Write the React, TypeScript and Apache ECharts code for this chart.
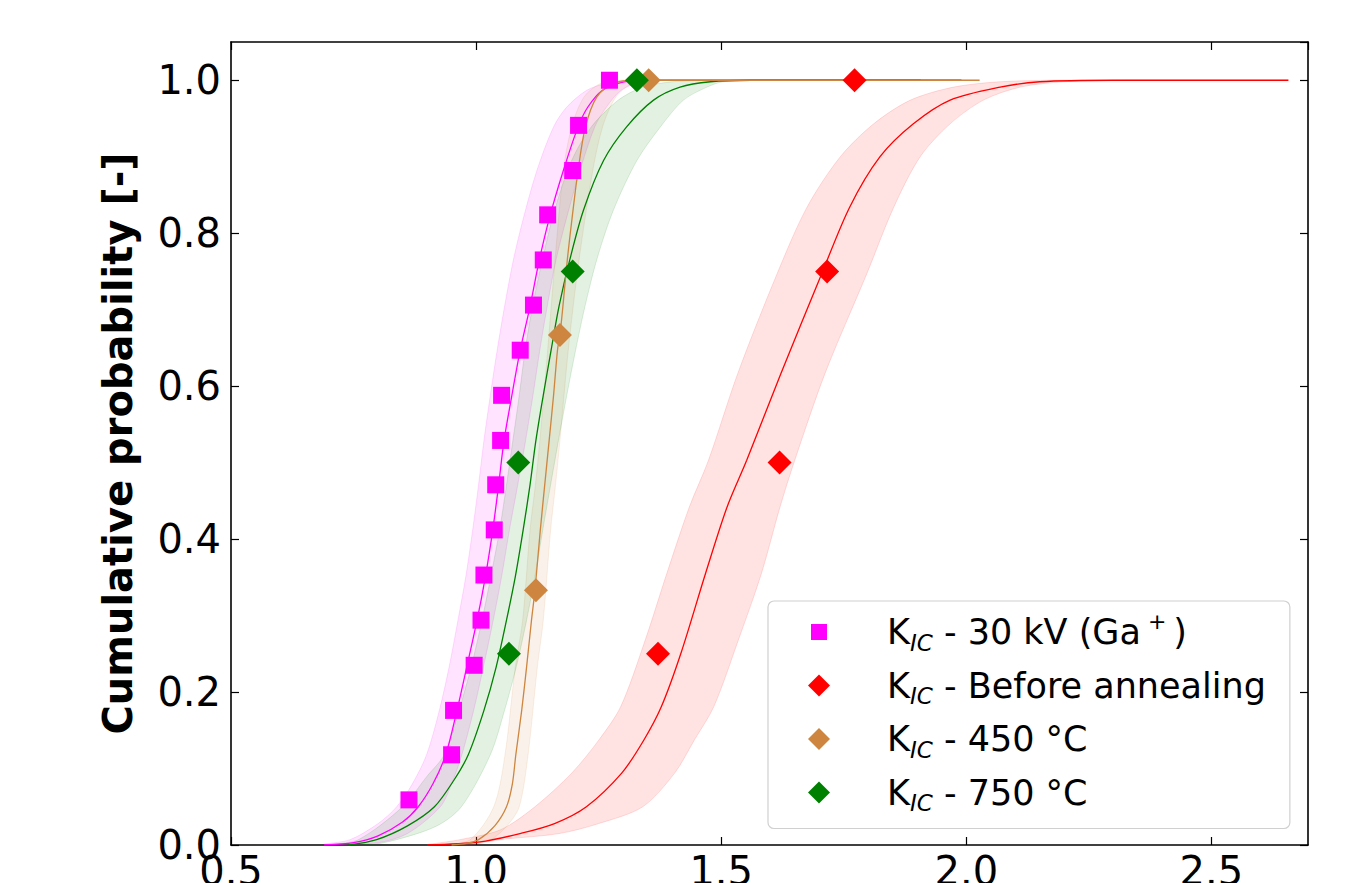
import React, { useEffect, useRef } from "react";
import * as echarts from "echarts";

const FONT = "DejaVu Sans";

// Legend / series names
const seriesNames = [
  "KIC - 30 kV (Ga+)",
  "KIC - Before annealing",
  "KIC - 450 °C",
  "KIC - 750 °C",
];
const legendRich: Record<string, string> = {
  "KIC - 30 kV (Ga+)": "{k|K}{s|IC}{n| - 30 kV (Ga}{p| + }{n|)}",
  "KIC - Before annealing": "{k|K}{s|IC}{n| - Before annealing}",
  "KIC - 450 °C": "{k|K}{s|IC}{n| - 450 °C}",
  "KIC - 750 °C": "{k|K}{s|IC}{n| - 750 °C}",
};
const colors = ["#ff00ff", "#ff0000", "#cd853f", "#008000"];
const bandFills = [
  "rgba(255,0,255,0.11)",
  "rgba(255,0,0,0.11)",
  "rgba(205,133,63,0.11)",
  "rgba(0,128,0,0.11)",
];
const bandStrokes = [
  "rgba(255,0,255,0.13)",
  "rgba(255,0,0,0.13)",
  "rgba(205,133,63,0.13)",
  "rgba(0,128,0,0.13)",
];

// Measured points
const magentaX = [0.863, 0.95, 0.954, 0.996, 1.01, 1.016, 1.037, 1.04, 1.05, 1.052, 1.09, 1.117, 1.137, 1.146, 1.197, 1.209, 1.272];
const magentaY = [0.059, 0.118, 0.176, 0.235, 0.294, 0.353, 0.412, 0.471, 0.529, 0.588, 0.647, 0.706, 0.765, 0.824, 0.882, 0.941, 1.0];
const redX = [1.371, 1.619, 1.716, 1.772];
const redY = [0.25, 0.5, 0.75, 1.0];
const brownX = [1.122, 1.171, 1.352];
const brownY = [0.333, 0.667, 1.0];
const greenX = [1.067, 1.086, 1.197, 1.328];
const greenY = [0.25, 0.5, 0.75, 1.0];

// Fitted curves
const magentaFit = [[0.69,0],[0.75,0.003],[0.80,0.012],[0.85,0.03],[0.882,0.05],[0.912,0.08],[0.938,0.118],[0.961,0.176],[0.981,0.233],[1.002,0.294],[1.019,0.351],[1.034,0.412],[1.046,0.471],[1.057,0.529],[1.073,0.588],[1.09,0.647],[1.11,0.704],[1.129,0.765],[1.15,0.821],[1.178,0.882],[1.208,0.939],[1.228,0.965],[1.258,0.987],[1.302,0.998],[1.36,1.0],[1.907,1.0]];
const magentaUpper = [[0.69,0.001],[0.743,0.007],[0.80,0.028],[0.838,0.05],[0.87,0.08],[0.899,0.118],[0.925,0.176],[0.945,0.233],[0.963,0.294],[0.979,0.351],[0.993,0.412],[1.005,0.471],[1.016,0.529],[1.029,0.588],[1.043,0.647],[1.058,0.704],[1.076,0.765],[1.097,0.821],[1.124,0.882],[1.158,0.939],[1.185,0.965],[1.226,0.987],[1.267,0.996],[1.32,1.0],[1.907,1.0]];
const magentaLower = [[0.69,0],[0.80,0.003],[0.86,0.015],[0.927,0.05],[0.95,0.08],[0.971,0.118],[0.995,0.176],[1.015,0.233],[1.035,0.294],[1.052,0.351],[1.068,0.412],[1.085,0.471],[1.101,0.529],[1.116,0.588],[1.13,0.647],[1.145,0.704],[1.163,0.765],[1.185,0.821],[1.212,0.882],[1.242,0.939],[1.266,0.965],[1.296,0.987],[1.34,0.998],[1.40,1.0],[1.907,1.0]];

const greenFit = [[0.74,0],[0.797,0.007],[0.86,0.025],[0.915,0.05],[0.955,0.085],[0.984,0.118],[1.016,0.176],[1.041,0.233],[1.062,0.294],[1.08,0.351],[1.096,0.412],[1.11,0.471],[1.122,0.529],[1.137,0.588],[1.153,0.647],[1.169,0.704],[1.191,0.765],[1.219,0.83],[1.26,0.895],[1.307,0.939],[1.362,0.974],[1.416,0.991],[1.478,0.998],[1.56,1.0],[1.99,1.0]];
const greenUpper = [[0.70,0],[0.76,0.007],[0.85,0.05],[0.90,0.09],[0.935,0.118],[0.965,0.176],[0.99,0.233],[1.012,0.294],[1.03,0.351],[1.048,0.412],[1.062,0.471],[1.075,0.529],[1.088,0.588],[1.10,0.647],[1.115,0.704],[1.135,0.765],[1.16,0.83],[1.195,0.895],[1.235,0.939],[1.29,0.974],[1.34,0.991],[1.40,0.998],[1.48,1.0],[1.99,1.0]];
const greenLower = [[0.78,0],[0.838,0.007],[0.92,0.025],[0.97,0.05],[1.029,0.118],[1.058,0.176],[1.082,0.233],[1.103,0.294],[1.12,0.351],[1.136,0.412],[1.152,0.471],[1.168,0.529],[1.185,0.588],[1.203,0.647],[1.222,0.704],[1.246,0.765],[1.28,0.83],[1.328,0.895],[1.376,0.939],[1.423,0.974],[1.471,0.991],[1.504,0.998],[1.58,1.0],[1.99,1.0]];

const brownFit = [[0.95,0],[0.98,0.002],[1.005,0.007],[1.038,0.025],[1.062,0.05],[1.074,0.08],[1.081,0.118],[1.093,0.176],[1.103,0.233],[1.113,0.294],[1.12,0.333],[1.131,0.412],[1.14,0.471],[1.149,0.529],[1.158,0.588],[1.166,0.647],[1.171,0.667],[1.177,0.704],[1.186,0.765],[1.196,0.821],[1.208,0.882],[1.223,0.939],[1.246,0.978],[1.28,0.996],[1.33,1.0],[2.027,1.0]];
const brownUpper = [[0.94,0],[0.988,0.007],[1.036,0.05],[1.059,0.118],[1.08,0.233],[1.095,0.294],[1.11,0.412],[1.121,0.471],[1.13,0.529],[1.146,0.647],[1.161,0.765],[1.178,0.882],[1.195,0.939],[1.22,0.978],[1.255,0.996],[1.30,1.0],[2.027,1.0]];
const brownLower = [[0.97,0],[1.029,0.007],[1.063,0.025],[1.088,0.05],[1.106,0.118],[1.125,0.233],[1.137,0.294],[1.152,0.412],[1.162,0.471],[1.171,0.529],[1.188,0.647],[1.21,0.765],[1.238,0.882],[1.258,0.939],[1.285,0.978],[1.32,0.996],[1.37,1.0],[2.027,1.0]];

const redFit = [[0.90,0],[1.008,0.004],[1.09,0.015],[1.16,0.028],[1.225,0.05],[1.297,0.094],[1.342,0.137],[1.378,0.181],[1.418,0.251],[1.468,0.355],[1.512,0.442],[1.552,0.503],[1.622,0.617],[1.705,0.747],[1.762,0.834],[1.824,0.9],[1.892,0.943],[1.967,0.974],[2.069,0.991],[2.15,0.998],[2.30,1.0],[2.657,1.0]];
const redUpper = [[0.90,0],[0.967,0.007],[1.05,0.02],[1.12,0.05],[1.195,0.094],[1.25,0.137],[1.295,0.181],[1.345,0.268],[1.389,0.355],[1.435,0.442],[1.474,0.503],[1.534,0.617],[1.614,0.747],[1.675,0.834],[1.743,0.9],[1.811,0.943],[1.886,0.974],[1.974,0.991],[2.069,0.998],[2.20,1.0],[2.657,1.0]];
const redLower = [[0.98,0],[1.049,0.007],[1.17,0.015],[1.25,0.028],[1.34,0.05],[1.405,0.094],[1.445,0.137],[1.485,0.181],[1.535,0.268],[1.582,0.355],[1.62,0.442],[1.65,0.503],[1.712,0.617],[1.797,0.747],[1.852,0.834],[1.906,0.9],[1.967,0.943],[2.035,0.974],[2.11,0.991],[2.20,0.998],[2.35,1.0],[2.657,1.0]];

const X_MIN = 0.5;
const X_MAX = 2.697;
const Y_MIN = 0;
const Y_MAX = 1.05;

function zip(xs: number[], ys: number[]) {
  return xs.map((x, i) => [x, ys[i]]);
}

function band(upper: number[][], lower: number[][], fill: string, stroke: string) {
  return {
    type: "custom",
    silent: true,
    z: 1,
    clip: true,
    data: [[upper[0][0], 0]],
    renderItem: (_params: any, api: any) => {
      const pts: number[][] = upper
        .map((p) => api.coord(p))
        .concat(lower.slice().reverse().map((p) => api.coord(p)));
      let minX = Infinity, minY = Infinity, maxX = -Infinity, maxY = -Infinity;
      pts.forEach((p) => {
        if (p[0] < minX) minX = p[0];
        if (p[1] < minY) minY = p[1];
        if (p[0] > maxX) maxX = p[0];
        if (p[1] > maxY) maxY = p[1];
      });
      return {
        type: "polygon",
        shape: {
          points: pts,
          smooth: 0.3,
          smoothConstraint: [[minX, minY], [maxX, maxY]],
        },
        style: { fill, stroke, lineWidth: 1 },
      };
    },
  };
}

function fitLine(data: number[][], color: string) {
  return {
    type: "line",
    data,
    showSymbol: false,
    symbol: "none",
    smooth: 0.3,
    silent: true,
    z: 2,
    lineStyle: { color, width: 1.3 },
  };
}

export default function App() {
  const ref = useRef<HTMLDivElement>(null);

  useEffect(() => {
    if (!ref.current) return;
    const chart = echarts.init(ref.current, undefined, { renderer: "svg" });

    const frameLine = { show: true, onZero: false, lineStyle: { color: "#000", width: 1.6 } };
    const tickIn = { show: true, inside: true, length: 8, lineStyle: { color: "#000", width: 1.2 } };
    const labelFmt = (v: number) => v.toFixed(1);

    const option: any = {
      animation: false,
      backgroundColor: "#ffffff",
      grid: {
        left: 231,
        right: 53,
        top: 42,
        bottom: 38,
        containLabel: false,
        outerBoundsMode: "none",
      },
      xAxis: [
        {
          type: "value",
          min: X_MIN,
          max: X_MAX,
          interval: 0.5,
          position: "bottom",
          axisLine: frameLine,
          axisTick: tickIn,
          splitLine: { show: false },
          axisLabel: {
            fontSize: 40,
            fontFamily: FONT,
            color: "#000",
            margin: 6,
            showMaxLabel: false,
            formatter: labelFmt,
          },
        },
        {
          type: "value",
          min: X_MIN,
          max: X_MAX,
          interval: 0.5,
          position: "top",
          axisLine: frameLine,
          axisTick: tickIn,
          splitLine: { show: false },
          axisLabel: { show: false },
        },
      ],
      yAxis: [
        {
          type: "value",
          min: Y_MIN,
          max: Y_MAX,
          interval: 0.2,
          position: "left",
          axisLine: frameLine,
          axisTick: tickIn,
          splitLine: { show: false },
          axisLabel: {
            fontSize: 40,
            fontFamily: FONT,
            color: "#000",
            margin: 10,
            showMaxLabel: false,
            formatter: labelFmt,
          },
          name: "Cumulative probability [-]",
          nameLocation: "middle",
          nameRotate: 90,
          nameGap: 93,
          nameTextStyle: { fontSize: 40, fontWeight: "bold", fontFamily: FONT, color: "#000" },
        },
        {
          type: "value",
          min: Y_MIN,
          max: Y_MAX,
          interval: 0.2,
          position: "right",
          axisLine: frameLine,
          axisTick: tickIn,
          splitLine: { show: false },
          axisLabel: { show: false },
        },
      ],
      legend: {
        orient: "vertical",
        left: 768,
        top: 601,
        itemWidth: 22,
        itemHeight: 22,
        itemGap: 14,
        padding: [9, 24, 14, 40],
        backgroundColor: "#ffffff",
        borderColor: "#d0d0d0",
        borderWidth: 1.2,
        borderRadius: 6,
        selectedMode: false,
        data: [
          { name: seriesNames[0], icon: "path://M0,0M3,3L19,3L19,19L3,19ZM22,22" },
          { name: seriesNames[1], icon: "diamond" },
          { name: seriesNames[2], icon: "diamond" },
          { name: seriesNames[3], icon: "diamond" },
        ],
        formatter: (name: string) => legendRich[name] || name,
        textStyle: {
          fontSize: 35,
          fontFamily: FONT,
          color: "#000",
          rich: {
            k: { fontSize: 35, fontFamily: FONT, color: "#000", lineHeight: 44, padding: [0, 0, 0, 52] },
            n: { fontSize: 35, fontFamily: FONT, color: "#000", lineHeight: 44 },
            s: { fontSize: 23, fontFamily: FONT, fontStyle: "italic", color: "#000", lineHeight: 29, verticalAlign: "bottom" },
            p: { fontSize: 22, fontFamily: FONT, color: "#000", lineHeight: 30, verticalAlign: "top" },
          },
        },
      },
      series: [
        band(magentaUpper, magentaLower, bandFills[0], bandStrokes[0]),
        band(redUpper, redLower, bandFills[1], bandStrokes[1]),
        band(brownUpper, brownLower, bandFills[2], bandStrokes[2]),
        band(greenUpper, greenLower, bandFills[3], bandStrokes[3]),
        fitLine(magentaFit, colors[0]),
        fitLine(redFit, colors[1]),
        fitLine(greenFit, colors[3]),
        fitLine(brownFit, colors[2]),
        {
          name: seriesNames[0],
          type: "scatter",
          symbol: "rect",
          symbolSize: 17,
          z: 3,
          itemStyle: { color: colors[0], opacity: 1 },
          data: zip(magentaX, magentaY),
        },
        {
          name: seriesNames[1],
          type: "scatter",
          symbol: "diamond",
          symbolSize: 24,
          z: 3,
          itemStyle: { color: colors[1], opacity: 1 },
          data: zip(redX, redY),
        },
        {
          name: seriesNames[2],
          type: "scatter",
          symbol: "diamond",
          symbolSize: 24,
          z: 3,
          itemStyle: { color: colors[2], opacity: 1 },
          data: zip(brownX, brownY),
        },
        {
          name: seriesNames[3],
          type: "scatter",
          symbol: "diamond",
          symbolSize: 24,
          z: 3,
          itemStyle: { color: colors[3], opacity: 1 },
          data: zip(greenX, greenY),
        },
      ],
    };

    chart.setOption(option);
    return () => chart.dispose();
  }, []);

  return (
    <div
      ref={ref}
      style={{ position: "absolute", left: 0, top: 0, width: 1361, height: 883, background: "#fff" }}
    />
  );
}
